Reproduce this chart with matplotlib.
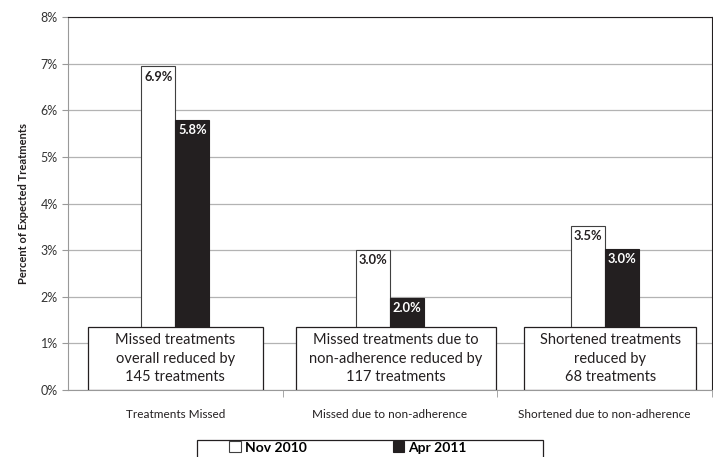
import numpy as np
import matplotlib.pyplot as plt
from matplotlib.patches import Rectangle

plt.rcParams['font.family'] = ['Lato', 'DejaVu Sans']

# Data
categories = ["Treatments Missed", "Missed due to non-adherence", "Shortened due to non-adherence"]
nov_2010 = [6.94, 3.0, 3.52]
apr_2011 = [5.79, 1.97, 3.03]
nov_labels = ["6.9%", "3.0%", "3.5%"]
apr_labels = ["5.8%", "2.0%", "3.0%"]
series_names = ["Nov 2010", "Apr 2011"]
box_texts = ["Missed treatments\noverall reduced by\n145 treatments",
             "Missed treatments due to\nnon-adherence reduced by\n117 treatments",
             "Shortened treatments\nreduced by\n68 treatments"]

fig = plt.figure(figsize=(7.13, 4.57), dpi=100)
ax = fig.add_axes([0.0954, 0.1466, 0.9032, 0.8162])

x = np.arange(len(categories))
w = 0.158
b1 = ax.bar(x - w / 2, nov_2010, w, color='white', edgecolor='#404040', linewidth=0.8,
            label=series_names[0], zorder=3)
b2 = ax.bar(x + w / 2, apr_2011, w, color='#231f20', edgecolor='#231f20', linewidth=0.8,
            label=series_names[1], zorder=3)

# value labels inside the top of each bar
for i in range(len(categories)):
    ax.annotate(nov_labels[i], (x[i] - w / 2, nov_2010[i]), xytext=(0, -3),
                textcoords='offset points', ha='center', va='top',
                fontsize=9.3, fontweight='bold', color='#231f20', zorder=5)
    ax.annotate(apr_labels[i], (x[i] + w / 2, apr_2011[i]), xytext=(0, -3),
                textcoords='offset points', ha='center', va='top',
                fontsize=9.3, fontweight='bold', color='white', zorder=5)

# annotation boxes
box_w = [0.814, 0.935, 0.80]
box_dx = [0.0, 0.028, 0.026]
box_h = 1.35
for i in range(len(categories)):
    cx = x[i] + box_dx[i]
    ax.add_patch(Rectangle((cx - box_w[i] / 2, 0), box_w[i], box_h, facecolor='white',
                           edgecolor='#231f20', linewidth=0.9, zorder=4))
    ax.text(cx, box_h / 2, box_texts[i], ha='center', va='center', fontsize=10.5,
            linespacing=1.4, color='#231f20', zorder=6)

ax.set_xlim(-0.5, 2.5)
ax.set_ylim(0, 8)
ax.set_yticks(range(0, 9))
ax.set_yticklabels([f"{v}%" for v in range(0, 9)], fontsize=9, color='#333333')
ax.yaxis.grid(True, color='#b3b3b3', linewidth=0.9, zorder=0)
ax.set_axisbelow(True)

ax.set_xticks(x)
ax.set_xticklabels(categories, fontsize=8.5, color='#231f20')
ax.set_xticks([0.5, 1.5, 2.5], minor=True)
ax.tick_params(axis='x', which='major', length=0, pad=14)
ax.tick_params(axis='x', which='minor', length=5, color='#999999', direction='out')
ax.tick_params(axis='y', length=4, color='#999999', direction='out')

ax.set_ylabel("Percent of Expected Treatments", fontsize=8, fontweight='bold',
              color='#231f20', labelpad=8)

for s in ['left', 'bottom']:
    ax.spines[s].set_color('#999999')
for s in ['top', 'right']:
    ax.spines[s].set_color('#231f20')

# legend, with its own wide frame running off the bottom edge
leg = fig.legend(handles=[b1, b2], labels=series_names, loc='upper left',
                 bbox_to_anchor=(228 / 713, 0.037), ncol=2, frameon=False,
                 prop={'weight': 'bold', 'size': 10},
                 handlelength=0.8, handleheight=0.8, handletextpad=0.3,
                 columnspacing=6.2, borderpad=0.1, borderaxespad=0)
fig.patches.append(Rectangle((197 / 713, -0.01), 346 / 713, 0.047, transform=fig.transFigure,
                             facecolor='none', edgecolor='#231f20', linewidth=0.9))

plt.savefig("out.png", dpi=100)
